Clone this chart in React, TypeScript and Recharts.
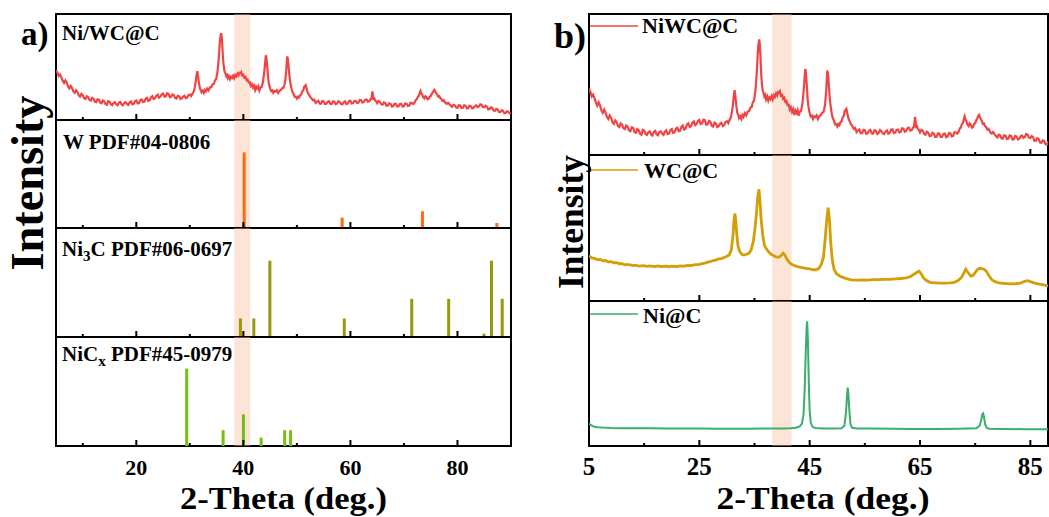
import React from 'react';
import { ComposedChart, Line, Bar, XAxis, YAxis, ReferenceArea } from 'recharts';

// ---------- data ----------
// NiWC@C (Ni/WC@C) measured pattern: [2θ, relative intensity]
const NIWC: [number, number][] = [
  [5.0, 47.0], [5.25, 44.8], [5.5, 41.5], [5.75, 42.9], [6.0, 40.2], [6.25, 37.1], [6.5, 35.0], [6.75, 37.4],
  [7.0, 35.2], [7.25, 31.6], [7.5, 29.8], [7.75, 32.2], [8.0, 30.1], [8.25, 27.0], [8.5, 25.6], [8.75, 28.1],
  [9.0, 26.5], [9.25, 23.3], [9.5, 22.1], [9.75, 24.6], [10.0, 23.4], [10.25, 20.6], [10.5, 19.9], [10.75, 22.4],
  [11.0, 21.6], [11.25, 18.9], [11.5, 18.3], [11.75, 20.9], [12.0, 20.1], [12.25, 17.4], [12.5, 16.9], [12.75, 19.6],
  [13.0, 19.2], [13.25, 16.3], [13.5, 15.8], [13.75, 18.4], [14.0, 17.6], [14.25, 15.0], [14.5, 14.4], [14.75, 17.8],
  [15.0, 17.3], [15.25, 14.9], [15.5, 14.2], [15.75, 16.1], [16.0, 16.8], [16.25, 14.6], [16.5, 13.9], [16.75, 16.5],
  [17.0, 17.1], [17.25, 14.7], [17.5, 14.0], [17.75, 16.3], [18.0, 16.9], [18.25, 15.2], [18.5, 14.3], [18.75, 16.6],
  [19.0, 17.5], [19.25, 14.8], [19.5, 15.1], [19.75, 17.6], [20.0, 18.4], [20.25, 15.7], [20.5, 16.0], [20.75, 18.6],
  [21.0, 19.3], [21.25, 16.9], [21.5, 17.2], [21.75, 20.0], [22.0, 20.9], [22.25, 18.0], [22.5, 18.6], [22.75, 21.5],
  [23.0, 22.4], [23.25, 19.8], [23.5, 20.5], [23.75, 22.9], [24.0, 23.8], [24.25, 21.1], [24.5, 21.9], [24.75, 24.3],
  [25.0, 24.9], [25.25, 22.0], [25.5, 22.4], [25.75, 25.1], [26.0, 24.8], [26.25, 21.5], [26.5, 21.9], [26.75, 24.2],
  [27.0, 23.6], [27.25, 20.8], [27.5, 20.2], [27.75, 22.9], [28.0, 22.3], [28.25, 19.8], [28.5, 20.4], [28.75, 22.1],
  [29.0, 22.8], [29.25, 20.5], [29.5, 21.2], [29.75, 23.4], [30.0, 24.0], [30.25, 22.6], [30.5, 25.0], [30.7, 26.5],
  [30.9, 30.5], [31.1, 36], [31.25, 42], [31.4, 46], [31.55, 41], [31.7, 35], [31.9, 29.5], [32.05, 28.5],
  [32.2, 26.2], [32.4, 27.5], [32.6, 25.5], [32.8, 28.3], [33.0, 27.0], [33.25, 29.6], [33.5, 28.0], [33.75, 30.8],
  [34.0, 31.0], [34.25, 33.6], [34.5, 34.0], [34.7, 37.5], [34.9, 38.5], [35.05, 42], [35.2, 47], [35.35, 55],
  [35.5, 65], [35.6, 73], [35.7, 78], [35.85, 82], [35.95, 79], [36.05, 72], [36.2, 58], [36.35, 50],
  [36.5, 45.5], [36.65, 44], [36.8, 41.5], [36.95, 42.5], [37.1, 39.5], [37.3, 41.5], [37.5, 38.5], [37.7, 40.8],
  [37.9, 39.6], [38.1, 41.8], [38.3, 39.5], [38.5, 42.4], [38.7, 41.2], [38.9, 43.6], [39.1, 42.2], [39.25, 44.6],
  [39.4, 44.2], [39.6, 45.3], [39.8, 42.0], [40.0, 42.6], [40.2, 39.8], [40.4, 40.6], [40.6, 37.6], [40.8, 38.2],
  [41.0, 35.4], [41.2, 35.6], [41.4, 32.2], [41.6, 33.8], [41.8, 30.6], [42.0, 32.4], [42.2, 28.3], [42.4, 31.5],
  [42.6, 29.8], [42.8, 31.8], [43.0, 27.8], [43.2, 30.6], [43.4, 31.0], [43.55, 33.5], [43.7, 37], [43.85, 43],
  [44.0, 50], [44.1, 56], [44.2, 61], [44.3, 59], [44.4, 54], [44.5, 48], [44.6, 41], [44.75, 35],
  [44.9, 31.5], [45.05, 29.2], [45.2, 27.3], [45.4, 27.9], [45.6, 25.6], [45.8, 27.4], [46.0, 26.8], [46.25, 28.1],
  [46.5, 25.5], [46.75, 27.6], [47.0, 28.2], [47.25, 30.0], [47.5, 30.5], [47.65, 33], [47.8, 36], [47.9, 41],
  [48.0, 46], [48.1, 53], [48.2, 60], [48.3, 58], [48.4, 54], [48.5, 48], [48.6, 42], [48.75, 36],
  [48.9, 32], [49.05, 28.5], [49.2, 26], [49.4, 24.4], [49.6, 21.8], [49.8, 21.9], [50.0, 20.2], [50.2, 22.0],
  [50.4, 21.2], [50.6, 23.4], [50.8, 24], [51.0, 26.8], [51.2, 28], [51.35, 31.2], [51.5, 32], [51.65, 32.8],
  [51.8, 30], [51.95, 27.2], [52.1, 25], [52.3, 23.6], [52.5, 21.6], [52.75, 20.4], [53.0, 18.5], [53.25, 19.2],
  [53.5, 16.2], [53.75, 17.3], [54.0, 18.1], [54.25, 15.6], [54.5, 15.4], [54.75, 17.9], [55.0, 17.6], [55.25, 15.0],
  [55.5, 15.3], [55.75, 17.2], [56.0, 17.8], [56.25, 15.4], [56.5, 15.1], [56.75, 17.6], [57.0, 17.2], [57.25, 14.9],
  [57.5, 15.6], [57.75, 17.7], [58.0, 16.9], [58.25, 15.3], [58.5, 14.8], [58.75, 16.6], [59.0, 17.5], [59.25, 15.1],
  [59.5, 15.6], [59.75, 17.9], [60.0, 18.2], [60.25, 15.6], [60.5, 15.9], [60.75, 17.8], [61.0, 18.0], [61.25, 16.0],
  [61.5, 16.4], [61.75, 18.9], [62.0, 18.7], [62.25, 16.5], [62.5, 17.0], [62.75, 19.1], [63.0, 19.4], [63.25, 17.3],
  [63.5, 17.6], [63.75, 19.5], [63.9, 20], [64.0, 23], [64.1, 27], [64.2, 24], [64.3, 20], [64.45, 20.4],
  [64.6, 18.6], [64.8, 17.8], [65.0, 16.0], [65.25, 17.9], [65.5, 17.2], [65.75, 14.9], [66.0, 14.4], [66.25, 16.6],
  [66.5, 15.9], [66.75, 13.4], [67.0, 13.6], [67.25, 15.8], [67.5, 15.3], [67.75, 12.8], [68.0, 13.0], [68.25, 15.4],
  [68.5, 15.1], [68.75, 12.7], [69.0, 12.9], [69.25, 15.0], [69.5, 15.2], [69.75, 12.6], [70.0, 13.1], [70.25, 15.6],
  [70.5, 15.4], [70.75, 13.2], [71.0, 13.6], [71.25, 16.2], [71.5, 16.0], [71.75, 15.1], [72.0, 16.5], [72.2, 18.8],
  [72.4, 19.5], [72.6, 21.8], [72.8, 23], [72.95, 25.6], [73.1, 27.5], [73.25, 25.2], [73.4, 24], [73.6, 21.6],
  [73.8, 20.5], [74.0, 22.4], [74.2, 21.5], [74.4, 19.4], [74.6, 19.8], [74.8, 22.0], [75.0, 22.5], [75.2, 24.8],
  [75.4, 26], [75.55, 27.8], [75.7, 28.5], [75.85, 27.0], [76.0, 25.5], [76.2, 24.1], [76.4, 22], [76.6, 22.4],
  [76.8, 20.5], [77.0, 19.8], [77.2, 18], [77.4, 18.6], [77.6, 17.2], [77.8, 15.8], [78.0, 15.2], [78.25, 16.3],
  [78.5, 14.8], [78.75, 13.6], [79.0, 12.4], [79.25, 14.4], [79.5, 13.9], [79.75, 11.8], [80.0, 11.6], [80.25, 14.0],
  [80.5, 13.7], [80.75, 11.3], [81.0, 11.5], [81.25, 13.9], [81.5, 13.6], [81.75, 11.0], [82.0, 11.2], [82.25, 13.5],
  [82.5, 13.1], [82.75, 11.0], [83.0, 11.5], [83.25, 13.2], [83.5, 13.8], [83.75, 12.1], [84.0, 12.8], [84.25, 14.9],
  [84.5, 14.5], [84.75, 12.3], [85.0, 12.0], [85.25, 13.4], [85.5, 12.6], [85.75, 10.1], [86.0, 10.2], [86.25, 11.9],
  [86.5, 11.4], [86.75, 8.9], [87.0, 8.7], [87.25, 10.4], [87.5, 10.0], [87.75, 7.6], [88.0, 7.4], [88.25, 9.1],
  [88.5, 8.7], [88.75, 6.4], [89.0, 6.6], [89.25, 8.2], [89.5, 7.9], [89.75, 6.1], [90.0, 6.5],
];

// WC@C measured pattern
const WCC: [number, number][] = [
  [5.0, 31], [5.5, 29.5], [6.0, 29.2], [6.5, 28.3], [7.0, 28.4], [7.5, 27.5], [8.0, 27.7], [8.5, 26.8],
  [9.0, 27.0], [9.5, 26.2], [10.0, 26.3], [10.5, 25.5], [11.0, 25.6], [11.5, 24.8], [12.0, 25.1], [13.0, 24.3],
  [13.5, 24.6], [14.0, 23.9], [15.0, 24.2], [15.5, 23.7], [16.0, 24.1], [17.0, 23.6], [17.5, 24.0], [18.0, 23.5],
  [19.0, 23.9], [19.5, 23.4], [20.0, 23.8], [21.0, 23.6], [21.5, 24.1], [22.0, 23.8], [23.0, 24.4], [23.5, 24.2],
  [24.0, 24.8], [25.0, 25.1], [25.5, 25.6], [26.0, 25.9], [26.5, 26.6], [27.0, 26.9], [27.5, 27.7], [28.0, 28.0],
  [28.5, 28.9], [29.0, 29.0], [29.5, 29.8], [30.0, 30.6], [30.4, 31.5], [30.8, 35], [31.1, 45], [31.3, 56],
  [31.45, 60], [31.6, 55], [31.8, 45], [32.0, 38], [32.3, 34], [32.7, 32], [33.1, 31.5], [33.6, 32],
  [34.0, 32.8], [34.4, 35], [34.8, 41], [35.1, 50], [35.4, 62], [35.6, 72], [35.8, 76.5], [36.0, 68],
  [36.2, 56], [36.5, 45], [36.8, 38], [37.2, 35.5], [37.6, 33.5], [38.0, 32], [38.5, 31], [39.0, 30],
  [39.5, 30], [39.9, 31.5], [40.2, 32.8], [40.5, 31.5], [40.9, 28.5], [41.3, 26.5], [41.8, 25], [42.4, 24],
  [43.0, 23.4], [43.6, 22.8], [44.3, 22.4], [45.0, 22], [45.6, 21.4], [46.2, 21.4], [46.7, 22.4], [47.1, 25],
  [47.5, 30], [47.8, 42], [48.1, 56], [48.35, 64], [48.6, 55], [48.8, 41], [49.1, 28], [49.4, 22],
  [49.8, 19], [50.3, 17.5], [50.8, 16.5], [51.5, 15.5], [52.5, 14.5], [53.5, 14.3], [54.5, 14.5], [55.5, 14.3],
  [56.5, 14.6], [57.5, 14.6], [58.5, 14.8], [59.5, 14.9], [60.5, 15.1], [61.5, 15.4], [62.5, 15.8], [63.3, 16.8],
  [63.9, 18.3], [64.4, 19.5], [64.8, 20.5], [65.2, 18.8], [65.6, 16], [66.1, 14.2], [66.8, 12.8], [67.5, 12.5],
  [68.5, 12.3], [69.5, 12.2], [70.5, 12.4], [71.2, 12.8], [71.9, 14], [72.5, 16], [73.0, 19.5], [73.3, 21.7],
  [73.7, 19.5], [74.2, 17], [74.6, 17.5], [75.0, 19.5], [75.4, 21.5], [75.8, 22.4], [76.2, 22.2], [76.6, 21.8],
  [77.0, 20.5], [77.4, 18], [77.9, 15], [78.5, 13.4], [79.3, 12.4], [80.2, 12.1], [81.2, 11.8], [82.2, 11.7],
  [83.2, 12.3], [84.0, 13.5], [84.5, 13.9], [85.0, 13.3], [85.8, 12.2], [86.6, 11.6], [87.4, 11.0], [88.2, 10.3],
  [89.0, 9.8], [90.0, 9.4],
];

// Ni@C measured pattern
const NIC: [number, number][] = [
  [5.0, 15.5], [5.3, 14.5], [5.8, 13.5], [6.5, 13], [7.5, 12.7], [9, 12.4], [11, 12.3], [13, 12.2],
  [16, 12.2], [19, 12.1], [22, 12.0], [25, 12.0], [28, 11.9], [31, 11.9], [34, 11.9], [37, 12.0],
  [40, 12.0], [41.5, 12.2], [42.5, 12.6], [43.2, 13.5], [43.6, 15.5], [43.9, 22], [44.1, 40], [44.3, 66],
  [44.45, 82], [44.55, 86], [44.7, 70], [44.85, 42], [45.0, 24], [45.2, 16], [45.5, 13.2], [46.0, 12.4],
  [47.5, 12.1], [49.5, 12.0], [50.8, 12.3], [51.3, 14], [51.6, 24], [51.8, 36], [51.9, 40.2], [52.0, 37],
  [52.2, 24], [52.4, 15], [52.7, 12.6], [53.5, 12.1], [56, 12.0], [60, 11.9], [64, 11.8], [68, 11.8],
  [72, 11.9], [75.2, 12.2], [75.8, 14], [76.1, 18], [76.3, 22], [76.45, 22.5], [76.6, 20], [76.8, 15],
  [77.1, 12.5], [77.6, 11.9], [80, 11.7], [84, 11.6], [88, 11.5], [90, 11.5],
];

// Reference stick patterns
const W_PDF: [number, number][] = [[40.1, 70], [58.4, 9.5], [73.4, 15.5], [87.3, 4.6]];
const NI3C_PDF: [number, number][] = [
  [39.5, 17], [42.0, 17], [45.0, 70], [58.9, 17], [71.5, 35], [78.4, 35], [85.0, 3], [86.4, 70], [88.4, 35],
];
const NICX_PDF: [number, number][] = [[29.5, 71], [36.3, 14.5], [40.1, 29], [43.4, 7.7], [47.8, 14.5], [48.9, 14.5]];

const LEFT_TICKS = [10, 20, 30, 40, 50, 60, 70, 80];
const LEFT_MAJOR = [20, 40, 60, 80];
const RIGHT_TICKS = [5, 15, 25, 35, 45, 55, 65, 75, 85];
const RIGHT_MAJOR = [5, 25, 45, 65, 85];

const LEFT_LABELS = ['Ni/WC@C', 'W PDF#04-0806', 'Ni3C PDF#06-0697', 'NiCx PDF#45-0979'];
const RIGHT_LABELS = ['NiWC@C', 'WC@C', 'Ni@C'];
const X_TITLE = '2-Theta (deg.)';
const Y_TITLE = 'Intensity';

const toRows = (a: [number, number][]) => a.map(([t, i]) => ({ t, i }));

// ---------- styling ----------
const FONT = '"Liberation Serif", "Times New Roman", serif';
const RED = '#f04444';
const GOLD = '#d39e06';
const GREEN = '#3aae6b';
const BAND_FILL = '#f7bf9e';
const BAND_OPACITY = 0.42;
const PAD = 12;
const AXH = 30;

function TickMark(p: any) {
  const { x, y, payload, majors, showLabel, fs } = p;
  const major = majors.includes(payload.value);
  return (
    <g>
      <line x1={x} x2={x} y1={y} y2={y - (major ? 6 : 3)} stroke="#000" strokeWidth={2} />
      {showLabel && major && (
        <text x={x} y={y + 29} textAnchor="middle" fontFamily={FONT} fontWeight="bold" fontSize={fs} fill="#000">
          {payload.value}
        </text>
      )}
    </g>
  );
}

function SubPlot(props: {
  x: number; y: number; w: number; h: number;
  domain: [number, number]; ticks: number[]; majors: number[];
  showLabels: boolean; labelSize: number; band: [number, number];
  data: any[]; children: React.ReactNode;
}) {
  const bottom = props.showLabels ? 20 : 2;
  return (
    <div style={{ position: 'absolute', left: props.x - PAD, top: props.y - PAD }}>
      <ComposedChart
        width={props.w + 2 * PAD}
        height={props.h + PAD + AXH + bottom}
        data={props.data}
        margin={{ top: PAD, right: PAD, bottom, left: PAD }}
      >
        <XAxis
          type="number"
          dataKey="t"
          domain={props.domain}
          allowDataOverflow
          ticks={props.ticks}
          interval={0}
          height={AXH}
          axisLine={false}
          tickLine={false}
          tickSize={0}
          tickMargin={0}
          tick={<TickMark majors={props.majors} showLabel={props.showLabels} fs={props.labelSize} />}
        />
        <YAxis hide type="number" domain={[0, 100]} allowDataOverflow />
        <ReferenceArea
          x1={props.domain[0]} x2={props.domain[1]} y1={0} y2={100}
          fill="none" stroke="#000" strokeWidth={2} fillOpacity={0}
        />
        {props.children}
        <ReferenceArea x1={props.band[0]} x2={props.band[1]} fill={BAND_FILL} fillOpacity={BAND_OPACITY} stroke="none" />
      </ComposedChart>
    </div>
  );
}

export default function App() {
  const niwc = toRows(NIWC);
  const wcc = toRows(WCC);
  const nic = toRows(NIC);
  const lDom: [number, number] = [5, 90];
  const rDom: [number, number] = [5, 88.2];
  const lBand: [number, number] = [38.3, 41.3];
  const rBand: [number, number] = [38.2, 41.7];
  const LX = 56, LW = 455;
  const LY = [14, 120, 228, 337, 446];
  const RX = 589, RW = 459;
  const RY = [14, 155, 301, 446];

  const common = { fontFamily: FONT, fontWeight: 'bold' as const, fill: '#000' };

  return (
    <div style={{ position: 'absolute', left: 0, top: 0, width: 1049, height: 517, background: '#fff', overflow: 'hidden' }}>
      {/* left panel */}
      <SubPlot x={LX} y={LY[0]} w={LW} h={LY[1] - LY[0]} domain={lDom} ticks={LEFT_TICKS} majors={LEFT_MAJOR}
        showLabels={false} labelSize={22} band={lBand} data={niwc}>
        <Line type="linear" dataKey="i" stroke={RED} strokeWidth={2.2} dot={false} isAnimationActive={false} />
      </SubPlot>
      <SubPlot x={LX} y={LY[1]} w={LW} h={LY[2] - LY[1]} domain={lDom} ticks={LEFT_TICKS} majors={LEFT_MAJOR}
        showLabels={false} labelSize={22} band={lBand} data={toRows(W_PDF)}>
        <Bar dataKey="i" fill="#ff6a0e" barSize={3} isAnimationActive={false} />
      </SubPlot>
      <SubPlot x={LX} y={LY[2]} w={LW} h={LY[3] - LY[2]} domain={lDom} ticks={LEFT_TICKS} majors={LEFT_MAJOR}
        showLabels={false} labelSize={22} band={lBand} data={toRows(NI3C_PDF)}>
        <Bar dataKey="i" fill="#98980c" barSize={3} isAnimationActive={false} />
      </SubPlot>
      <SubPlot x={LX} y={LY[3]} w={LW} h={LY[4] - LY[3]} domain={lDom} ticks={LEFT_TICKS} majors={LEFT_MAJOR}
        showLabels={true} labelSize={22} band={lBand} data={toRows(NICX_PDF)}>
        <Bar dataKey="i" fill="#72c012" barSize={3} isAnimationActive={false} />
      </SubPlot>

      {/* right panel */}
      <SubPlot x={RX} y={RY[0]} w={RW} h={RY[1] - RY[0]} domain={rDom} ticks={RIGHT_TICKS} majors={RIGHT_MAJOR}
        showLabels={false} labelSize={25} band={rBand} data={niwc}>
        <Line type="linear" dataKey="i" stroke={RED} strokeWidth={2.2} dot={false} isAnimationActive={false} />
      </SubPlot>
      <SubPlot x={RX} y={RY[1]} w={RW} h={RY[2] - RY[1]} domain={rDom} ticks={RIGHT_TICKS} majors={RIGHT_MAJOR}
        showLabels={false} labelSize={25} band={rBand} data={wcc}>
        <Line type="linear" dataKey="i" stroke={GOLD} strokeWidth={2.8} dot={false} isAnimationActive={false} />
      </SubPlot>
      <SubPlot x={RX} y={RY[2]} w={RW} h={RY[3] - RY[2]} domain={rDom} ticks={RIGHT_TICKS} majors={RIGHT_MAJOR}
        showLabels={true} labelSize={25} band={rBand} data={nic}>
        <Line type="linear" dataKey="i" stroke={GREEN} strokeWidth={2} dot={false} isAnimationActive={false} />
      </SubPlot>

      {/* text overlay */}
      <svg width={1049} height={517} style={{ position: 'absolute', left: 0, top: 0, pointerEvents: 'none' }}>
        <text x={21} y={45} fontSize={33} {...common}>a)</text>
        <text x={554} y={48} fontSize={36} {...common}>b)</text>

        <text x={62} y={40} fontSize={21} {...common}>{LEFT_LABELS[0]}</text>
        <text x={63} y={149} fontSize={21} {...common}>{LEFT_LABELS[1]}</text>
        <text x={62} y={256} fontSize={21} {...common}>
          <tspan>Ni</tspan><tspan fontSize={15} dy={5}>3</tspan><tspan dy={-5}>C PDF#06-0697</tspan>
        </text>
        <text x={62} y={361} fontSize={21} {...common}>
          <tspan>NiC</tspan><tspan fontSize={15} dy={5}>x</tspan><tspan dy={-5}> PDF#45-0979</tspan>
        </text>

        <line x1={590} x2={638} y1={26} y2={26} stroke={RED} strokeWidth={1.6} />
        <text x={642} y={33} fontSize={22} {...common}>{RIGHT_LABELS[0]}</text>
        <line x1={590} x2={638} y1={170} y2={170} stroke={GOLD} strokeWidth={1.6} />
        <text x={644} y={178} fontSize={22} {...common}>{RIGHT_LABELS[1]}</text>
        <line x1={590} x2={638} y1={314} y2={314} stroke={GREEN} strokeWidth={1.6} />
        <text x={643} y={323} fontSize={22} {...common}>{RIGHT_LABELS[2]}</text>

        <text transform="translate(43,183) rotate(-90)" textAnchor="middle" fontSize={46} textLength={175}
          lengthAdjust="spacingAndGlyphs" {...common}>{Y_TITLE}</text>
        <text transform="translate(583,222) rotate(-90)" textAnchor="middle" fontSize={36} textLength={134}
          lengthAdjust="spacingAndGlyphs" {...common}>{Y_TITLE}</text>

        <text x={283.5} y={509} textAnchor="middle" fontSize={31} textLength={207} lengthAdjust="spacingAndGlyphs" {...common}>{X_TITLE}</text>
        <text x={823} y={509} textAnchor="middle" fontSize={31} textLength={213} lengthAdjust="spacingAndGlyphs" {...common}>{X_TITLE}</text>
      </svg>
    </div>
  );
}
